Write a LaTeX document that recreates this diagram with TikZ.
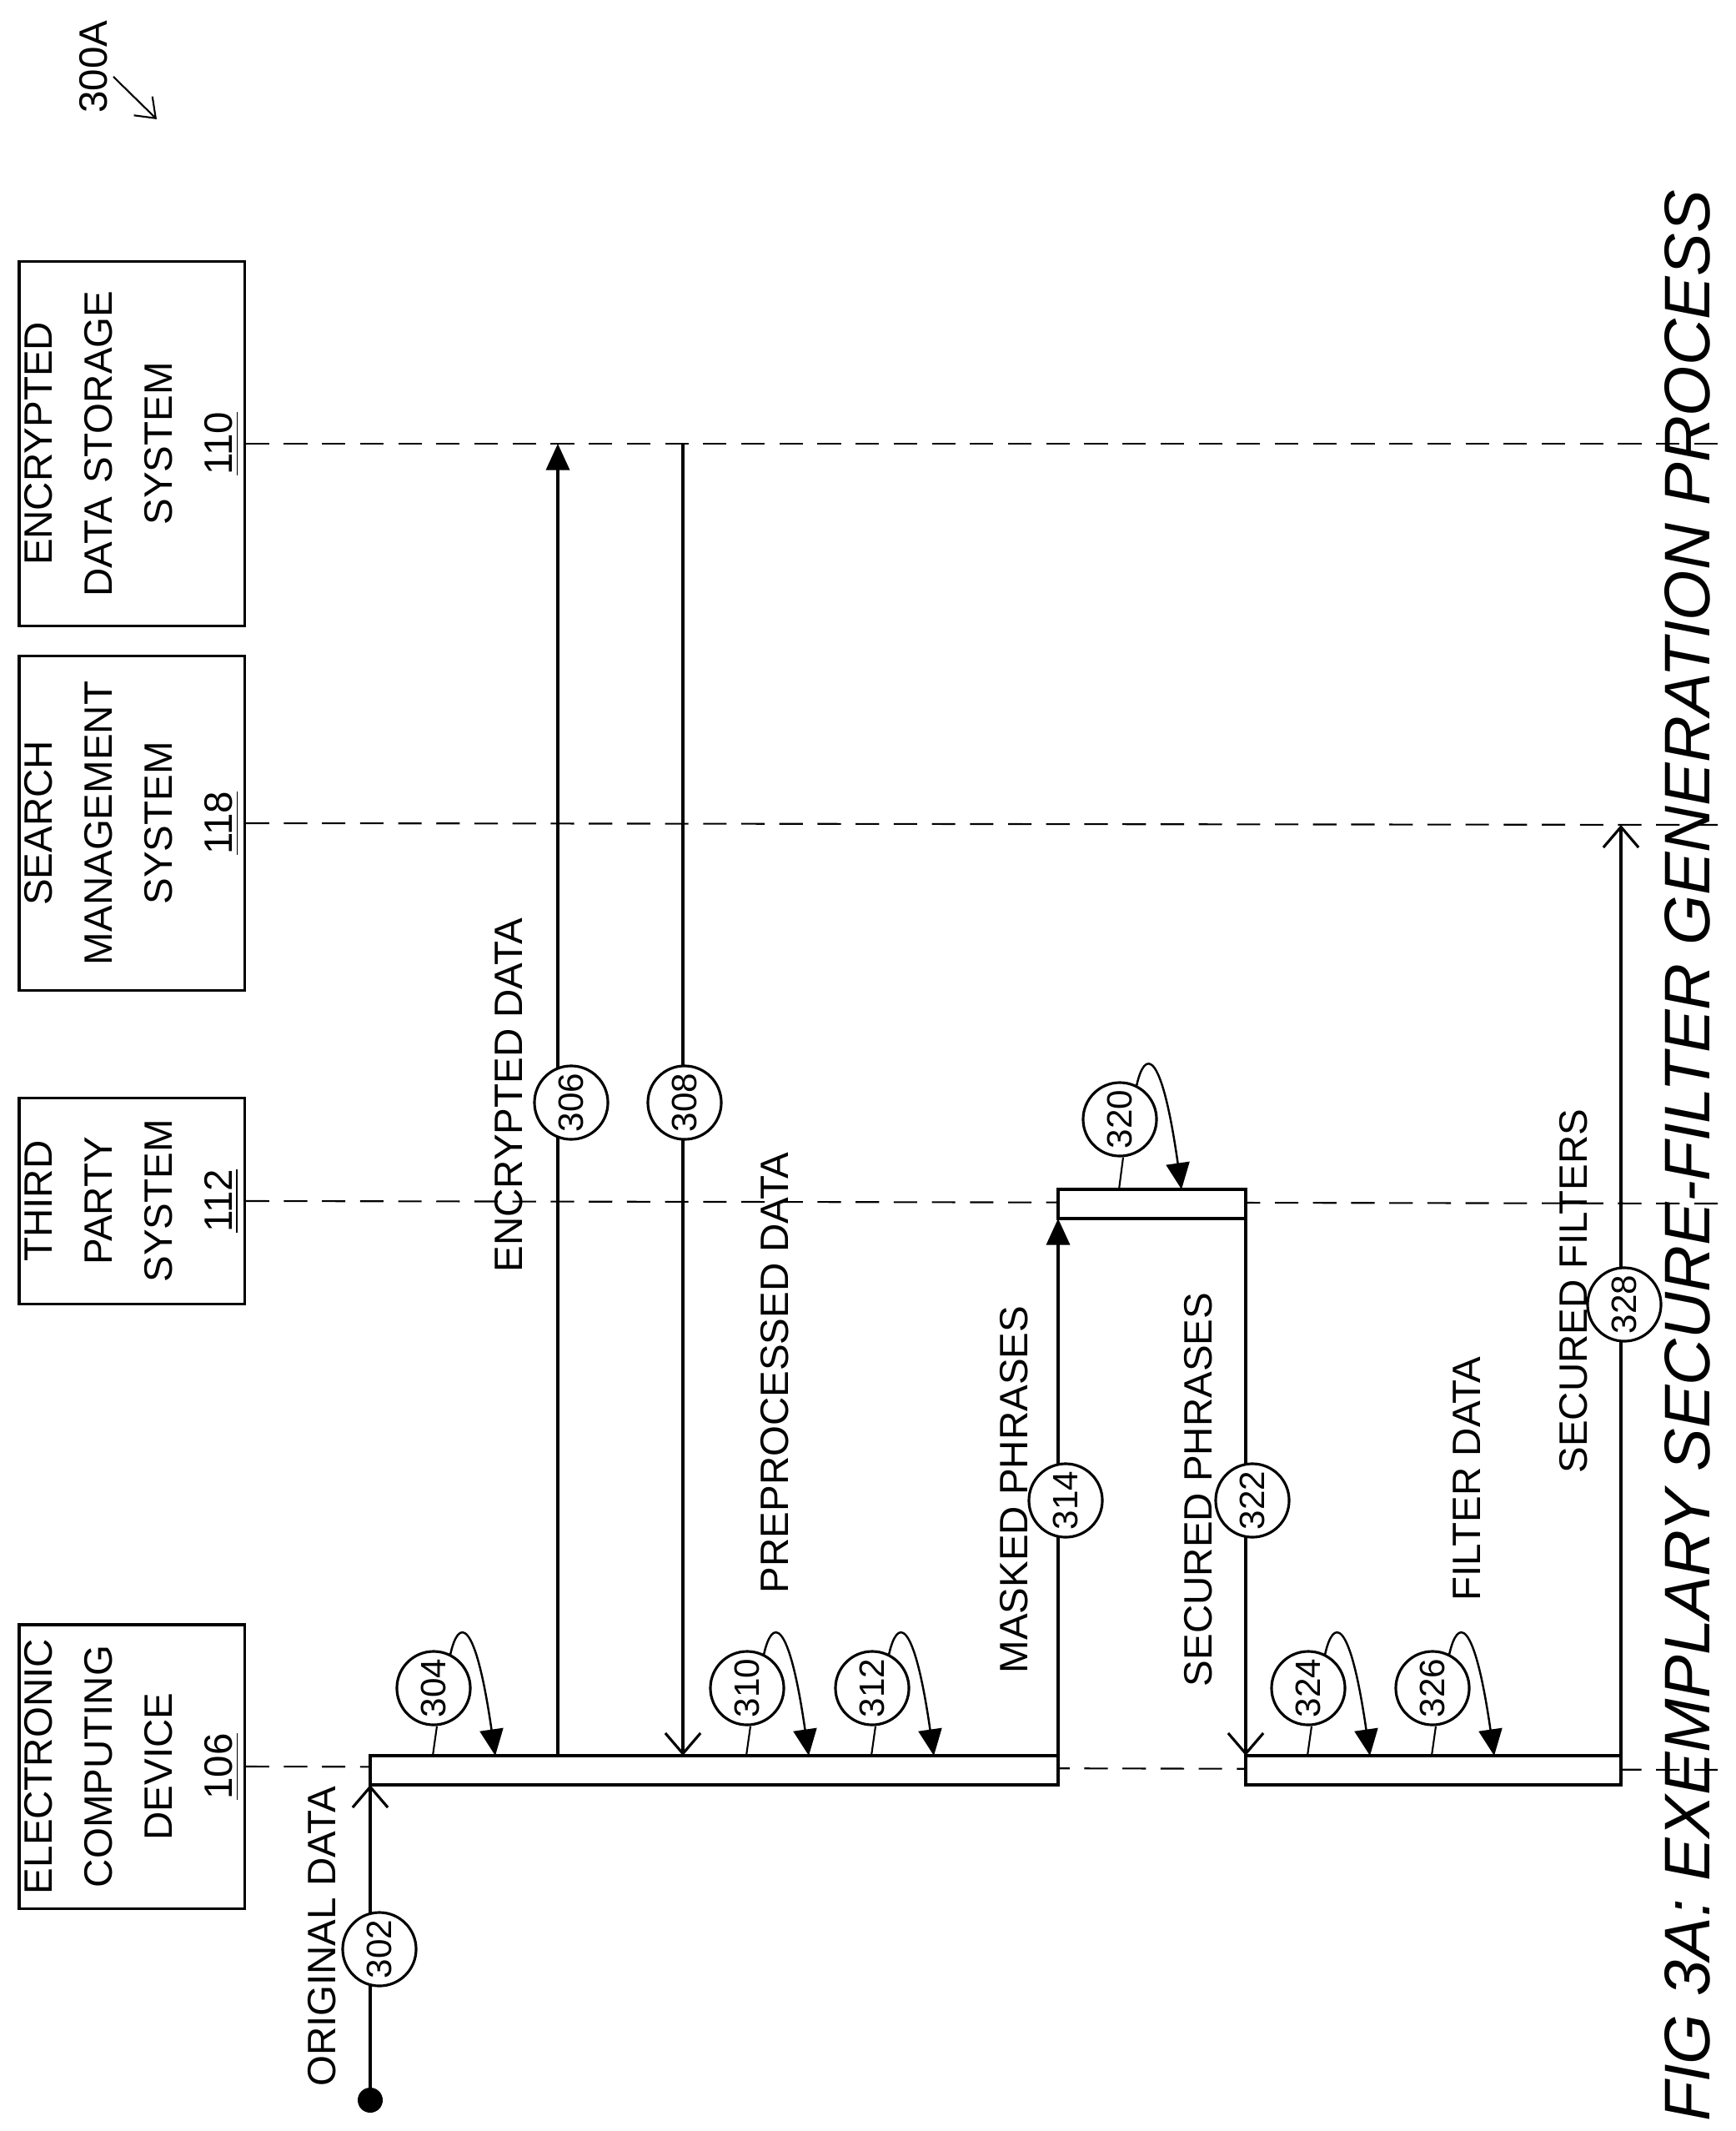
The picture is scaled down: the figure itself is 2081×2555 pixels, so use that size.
\documentclass[tikz,border=0pt]{standalone}
\usepackage{fontspec}
\setmainfont{Liberation Sans}
\usetikzlibrary{arrows.meta}
\begin{document}
\begin{tikzpicture}[x=0.01cm,y=-0.01cm,line width=0.9pt,
  box/.style={draw,minimum width=2.7cm,align=center,font=\fontsize{13.5}{20.5}\selectfont,rotate=90,inner sep=0pt},
  lbl/.style={rotate=90,font=\fontsize{13.5}{16}\selectfont,inner sep=0pt},
  num/.style={circle,draw,fill=white,minimum size=0.88cm,inner sep=0pt,rotate=90,font=\fontsize{12}{14}\selectfont},
  life/.style={dashed,dash pattern=on 8pt off 5pt,line width=0.6pt},
  bar/.style={draw,fill=white},
  fillarr/.style={-{Triangle[length=9pt,width=8pt]}},
  openarr/.style={-{Straight Barb[length=7pt,width=12pt]}}]
\useasboundingbox (0,0) rectangle (2081,2555);
% boxes
\node[box,minimum height=2.7cm,text width=3.4cm] (b106) at (158,2118) {ELECTRONIC\\COMPUTING\\DEVICE\\\underline{106}};
\node[box,minimum height=2.7cm,text width=2.3cm,minimum width=2.47cm] (b112) at (158,1440) {THIRD\\PARTY\\SYSTEM\\\underline{112}};
\node[box,minimum height=2.7cm,text width=3.8cm,minimum width=4.0cm] (b118) at (158,987) {SEARCH\\MANAGEMENT\\SYSTEM\\\underline{118}};
\node[box,minimum height=2.7cm,text width=4.2cm,minimum width=4.37cm] (b110) at (158,532) {ENCRYPTED\\DATA STORAGE\\SYSTEM\\\underline{110}};
% lifelines
\coordinate (e106) at (2070,2122);
\coordinate (e112) at (2070,1443);
\coordinate (e118) at (2070,989);
\coordinate (e110) at (2070,532);
\draw[life] (b106.south) -- (e106);
\draw[life] (b112.south) -- (e112);
\draw[life] (b118.south) -- (e118);
\draw[life] (b110.south) -- (e110);
% bars
\draw[bar] (444,2105) rectangle (1269,2140);
\draw[bar] (1494,2105) rectangle (1944,2140);
\draw[bar] (1269,1426) rectangle (1494,1461);
% original data
\coordinate (dot) at (444,2518);
\fill (dot) circle (15);
\draw[openarr] (dot) -- (444,2140);
\node[num] (n302) at (455,2337) {302};
\node[lbl] (t302) at (386,2322) {ORIGINAL DATA};
% messages
\draw[fillarr] (669,2105) -- (669,532);
\node[num] (n306) at (685,1322) {306};
\node[lbl] (t306) at (610,1313) {ENCRYPTED DATA};
\draw[openarr] (819,532) -- (819,2105);
\node[num] (n308) at (821,1322) {308};
\node[lbl] (t308) at (929,1646) {PREPROCESSED DATA};
\draw[fillarr] (1269,2105) -- (1269,1461);
\node[num] (n314) at (1278,1799) {314};
\node[lbl] (t314) at (1216,1786) {MASKED PHRASES};
\draw[openarr] (1494,1461) -- (1494,2105);
\node[num] (n322) at (1502,1799) {322};
\node[lbl] (t322) at (1437,1786) {SECURED PHRASES};
\draw[openarr] (1944,2105) -- (1944,989);
\node[num] (n328) at (1948,1564) {328};
\node[lbl] (t328) at (1887,1548) {SECURED FILTERS};
\node[lbl] (t326) at (1759,1773) {FILTER DATA};
% self loops
\foreach \n/\cx/\cy/\bt in {304/520/2024/2105,310/896/2024/2105,312/1046/2024/2105,324/1569/2024/2105,326/1718/2024/2105,320/1343/1342/1426}{
  \node[num] (s\n) at (\cx,\cy) {\n};
  \coordinate (lb\n) at (\cx-1,\bt);
  \coordinate (lt\n) at (\cx+74,\bt);
  \draw[line width=0.6pt] (s\n.west) ++(4,0) -- (lb\n);
  \draw[fillarr,line width=0.7pt] (\cx+20,\cy-40) .. controls (\cx+30,\cy-85) and (\cx+50,\cy-85) .. (lt\n);
}
% title
\node[rotate=90,font=\fontsize{22}{26}\selectfont\itshape,inner sep=0pt] (title) at (2024,1386) {FIG 3A: EXEMPLARY SECURE-FILTER GENERATION PROCESS};
\node[rotate=90,font=\fontsize{13.5}{16}\selectfont,inner sep=0pt] (ref) at (112,80) {300A};
\coordinate (refa) at (188,143);
\draw[-{Straight Barb[length=6pt,width=9pt]},line width=0.6pt] (136,92) -- (refa);
\end{tikzpicture}
\end{document}
